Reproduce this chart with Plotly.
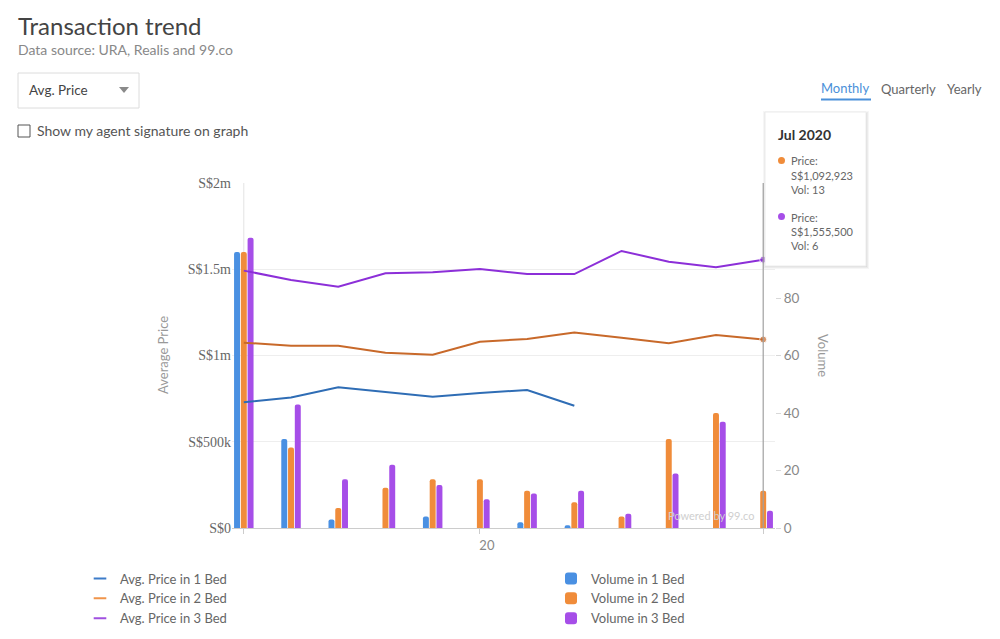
import plotly.graph_objects as go

# ---------------- data ----------------
months = ["Aug 2019", "Sep 2019", "Oct 2019", "Nov 2019", "Dec 2019", "Jan 2020",
          "Feb 2020", "Mar 2020", "Apr 2020", "May 2020", "Jun 2020", "Jul 2020"]
price_1bed = [729000, 756000, 816000, 787000, 761000, 783000, 800000, 709000, None, None, None, None]
price_2bed = [1074000, 1057000, 1057000, 1016000, 1005000, 1080000, 1096000, 1134000,
              1103000, 1071000, 1119000, 1092923]
price_3bed = [1492000, 1438000, 1399000, 1477000, 1482000, 1501000, 1472000, 1472000,
              1606000, 1544000, 1511000, 1555500]
vol_1bed = [96, 31, 3, None, 4, None, 2, 1, None, None, None, None]
vol_2bed = [96, 28, 7, 14, 17, 17, 13, 9, 4, 31, 40, 13]
vol_3bed = [101, 43, 17, 22, 15, 10, 12, 13, 5, 19, 37, 6]

price_ticks = [0, 500000, 1000000, 1500000, 2000000]
price_tick_text = ["S$0", "S$500k", "S$1m", "S$1.5m", "S$2m"]
vol_ticks = [0, 20, 40, 60, 80]
x_tick_text = ["", "20", ""]

# ---------------- styling ----------------
W, H = 1000, 639
OFF = 8  # page body margin offset (screen = figure + OFF)
L, R, T, B = 232 - OFF, 1000 - (775 - OFF), 183 - OFF, 639 - (528 - OFF)
PW, PH = W - L - R, H - T - B


def px(x):  # screen x -> paper
    return (x - OFF - L) / PW


def py(y):  # screen y -> paper
    return (H - B - (y - OFF)) / PH


line_colors = ["#2f6db5", "#c8692a", "#8c2fd8"]
legend_line_colors = ["#3d7cc9", "#f0944a", "#a050e0"]
bar_colors = ["#4a90e2", "#f08c3a", "#a64ee8"]
beds = ["1 Bed", "2 Bed", "3 Bed"]
prices = [price_1bed, price_2bed, price_3bed]
vols = [vol_1bed, vol_2bed, vol_3bed]

fig = go.Figure()

# bars on volume axis (y)
for i in range(3):
    fig.add_trace(go.Bar(
        x=months, y=vols[i], name="Volume in " + beds[i],
        marker=dict(color=bar_colors[i], line=dict(width=0)),
        yaxis="y", legend="legend2", hoverinfo="skip"))

# price lines on price axis (y2)
for i in range(3):
    last_idx = max(j for j, v in enumerate(prices[i]) if v is not None)
    sizes = [0] * len(months)
    if i > 0:
        sizes[last_idx] = 7
    fig.add_trace(go.Scatter(
        x=months, y=prices[i], mode="lines+markers", name="Avg. Price in " + beds[i],
        line=dict(color=line_colors[i], width=2),
        marker=dict(size=sizes, color=line_colors[i]),
        yaxis="y2", showlegend=False, connectgaps=False))

# legend entries for lines (short dash symbols)
for i in range(3):
    fig.add_trace(go.Scatter(
        x=[None], y=[None], mode="markers", name="Avg. Price in " + beds[i],
        marker=dict(symbol="line-ew", size=9, color=legend_line_colors[i],
                    line=dict(width=2, color=legend_line_colors[i])),
        yaxis="y2", legend="legend"))

shapes = []
shapes.append(dict(type="line", xref="x", yref="paper", x0=months[0], x1=months[0],
                   y0=0, y1=1, line=dict(color="#e3e3e3", width=1), layer="below"))
shapes.append(dict(type="line", xref="x", yref="paper", x0=months[-1], x1=months[-1],
                   y0=0, y1=1, line=dict(color="#a0a0a0", width=1.2), layer="above"))

# tooltip box with soft shadow
for off, col in [(3, "rgba(0,0,0,0.035)"), (2, "rgba(0,0,0,0.045)"), (1, "rgba(0,0,0,0.06)")]:
    shapes.append(dict(type="rect", xref="paper", yref="paper",
                       x0=px(765 - off + 1), x1=px(866 + off), y0=py(266 + off), y1=py(112 - off + 2),
                       fillcolor=col, line=dict(width=0), layer="above"))
shapes.append(dict(type="rect", xref="paper", yref="paper",
                   x0=px(765), x1=px(866), y0=py(266), y1=py(112),
                   fillcolor="white", line=dict(color="#ececec", width=1), layer="above"))
for yy, c in [(160.5, bar_colors[1]), (216.5, bar_colors[2])]:
    shapes.append(dict(type="circle", xref="paper", yref="paper",
                       x0=px(778), x1=px(785), y0=py(yy + 3.5), y1=py(yy - 3.5),
                       fillcolor=c, line=dict(width=0), layer="above"))

# dropdown box
shapes.append(dict(type="rect", xref="paper", yref="paper",
                   x0=px(18), x1=px(139), y0=py(108), y1=py(73),
                   fillcolor="white", line=dict(color="#dcdcdc", width=1)))
shapes.append(dict(type="path", xref="paper", yref="paper",
                   path=f"M {px(119)} {py(87)} L {px(129)} {py(87)} L {px(124)} {py(93)} Z",
                   fillcolor="#8a8a8a", line=dict(width=0)))
# checkbox
shapes.append(dict(type="rect", xref="paper", yref="paper",
                   x0=px(18), x1=px(30), y0=py(137), y1=py(125),
                   fillcolor="white", line=dict(color="#555555", width=1)))
# Monthly underline
shapes.append(dict(type="line", xref="paper", yref="paper",
                   x0=px(821), x1=px(871), y0=py(99.5), y1=py(99.5),
                   line=dict(color="#4a90d9", width=2)))

ui_font = "Lato"
annotations = []


def add_text(text, x, y, size=13, color="#555", anchor="left", family=ui_font, angle=0):
    annotations.append(dict(text=text, xref="paper", yref="paper", x=px(x), y=py(y),
                            xanchor=anchor, yanchor="middle", showarrow=False,
                            textangle=angle,
                            font=dict(size=size, color=color, family=family)))


add_text("Transaction trend", 16, 25, size=24, color="#444444")
add_text("Data source: URA, Realis and 99.co", 16, 49, size=14, color="#888888")
add_text("Avg. Price", 27, 90, size=13.5, color="#444444")
add_text("Show my agent signature on graph", 35, 131, size=14, color="#555555")
add_text("Monthly", 819, 88, size=13, color="#4a90d9")
add_text("Quarterly", 879, 89, size=13, color="#666666")
add_text("Yearly", 945, 89, size=13, color="#666666")
add_text("Average Price", 163, 355, size=13, color="#999999", anchor="center", angle=-90)
add_text("Volume", 823, 355, size=13, color="#999999", anchor="center", angle=90)
add_text("Powered by 99.co", 666, 515, size=11, color="#cfcfcf")

# tooltip text
add_text("<b>" + months[-1] + "</b>", 776, 134, size=14, color="#333333")
add_text("Price:", 789, 160, size=11, color="#666666")
add_text(f"S${price_2bed[-1]:,}", 789, 175, size=11, color="#666666")
add_text(f"Vol: {vol_2bed[-1]}", 789, 189, size=11, color="#666666")
add_text("Price:", 789, 217, size=11, color="#666666")
add_text(f"S${price_3bed[-1]:,}", 789, 231, size=11, color="#666666")
add_text(f"Vol: {vol_3bed[-1]}", 789, 245, size=11, color="#666666")

legend_font = dict(size=13, color="#666666", family=ui_font)
fig.update_layout(
    width=W, height=H,
    margin=dict(l=L, r=R, t=T, b=B, pad=0, autoexpand=False),
    paper_bgcolor="white", plot_bgcolor="white",
    barmode="group", bargap=0.57, bargroupgap=0.12, barcornerradius=3,
    font=dict(family=ui_font, color="#666"),
    hovermode=False,
    xaxis=dict(type="category", range=[-0.25, len(months) - 0.75],
               tickvals=[months[0], months[5], months[-1]], ticktext=x_tick_text,
               showgrid=False, showline=True, linecolor="#cccccc", linewidth=1,
               ticks="outside", ticklen=5, tickcolor="#cccccc", ticklabelshift=7,
               tickfont=dict(size=13, color="#888888", family=ui_font), zeroline=False),
    yaxis=dict(side="right", range=[0, 120], tickvals=vol_ticks,
               showgrid=False, zeroline=False, showline=False,
               ticks="outside", ticklen=5, tickcolor="#d8d8d8",
               tickfont=dict(size=13.5, color="#888888", family=ui_font)),
    yaxis2=dict(overlaying="y", side="left", range=[0, 2000000],
                tickvals=price_ticks, ticktext=price_tick_text,
                showgrid=True, gridcolor="#eeeeee", gridwidth=1, zeroline=False,
                showline=False, ticks="",
                tickfont=dict(size=14, color="#666666", family="Liberation Serif")),
    legend=dict(x=px(80), y=py(563.5), xanchor="left", yanchor="top", orientation="v",
                bgcolor="rgba(0,0,0,0)", font=legend_font, itemclick=False),
    legend2=dict(x=px(551), y=py(563.5), xanchor="left", yanchor="top", orientation="v",
                 bgcolor="rgba(0,0,0,0)", font=legend_font, itemclick=False),
    shapes=shapes,
    annotations=annotations,
)

fig.write_html("out.html")
